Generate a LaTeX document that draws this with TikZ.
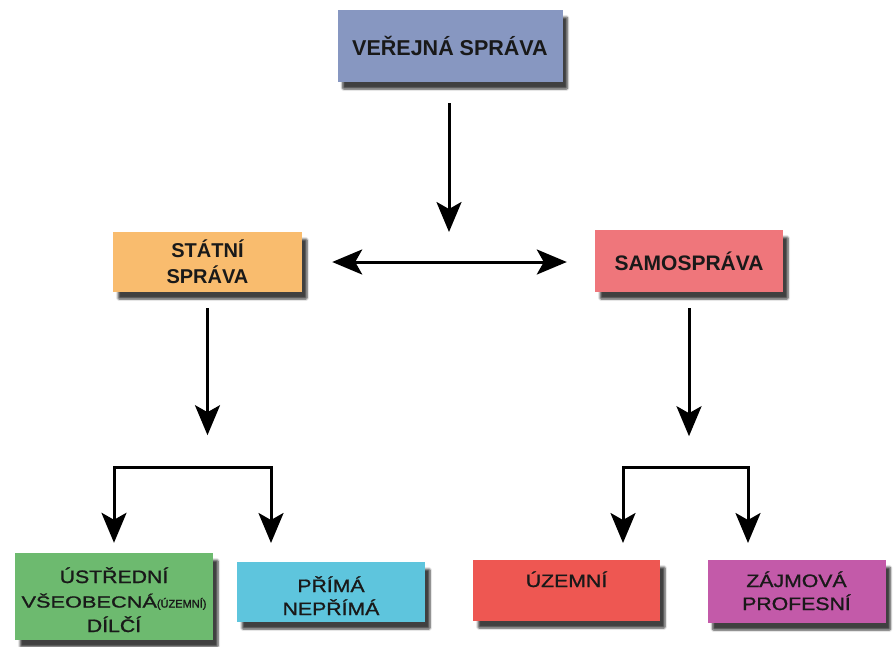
\documentclass[tikz,border=0pt]{standalone}
\usepackage{fontspec}
\setmainfont{Liberation Sans}
\newfontfamily\widefont[FakeStretch=1.18,FakeBold=1.2]{Liberation Sans}
\newfontfamily\widerfont[FakeStretch=1.36,FakeBold=1.2]{Liberation Sans}
\newfontfamily\smallfont[FakeBold=1.2]{Liberation Sans}
\usetikzlibrary{arrows.meta,shadows.blur}
\definecolor{cTop}{HTML}{8797C1}
\definecolor{cState}{HTML}{F9BC6E}
\definecolor{cSelf}{HTML}{EF767B}
\definecolor{cGreen}{HTML}{6DBA6F}
\definecolor{cCyan}{HTML}{5EC5DD}
\definecolor{cRed}{HTML}{EE5752}
\definecolor{cMag}{HTML}{C35AA9}
\tikzset{
  box/.style={draw=none, inner sep=0pt, align=center, text=black!90,
    blur shadow={shadow xshift=5pt, shadow yshift=-7pt, shadow blur steps=6, shadow blur extra rounding=1pt, shadow opacity=75}},
  arr/.style={line width=3pt, -{Stealth[length=30pt,width=25pt,inset=7pt]}},
  darr/.style={line width=3pt, {Stealth[length=30pt,width=25pt,inset=7pt]}-{Stealth[length=30pt,width=25pt,inset=7pt]}},
  lowtxt/.style={font=\widefont\fontsize{18}{23}\selectfont},
}
\begin{document}
\begin{tikzpicture}[x=1pt,y=-1pt]
\useasboundingbox (0,0) rectangle (894,646);
\node[box, fill=cTop, minimum width=225pt, minimum height=72pt, font=\bfseries\fontsize{21.5}{26}\selectfont] (top) at (450,46) {VEŘEJNÁ SPRÁVA};
\node[box, fill=cState, minimum width=189pt, minimum height=60pt, text height=45pt, text depth=3pt, font=\bfseries\fontsize{20}{26}\selectfont] (statni) at (207.5,262) {STÁTNÍ\\SPRÁVA};
\node[box, fill=cSelf, minimum width=188pt, minimum height=62pt, font=\bfseries\fontsize{21}{26}\selectfont] (samo) at (689,261) {SAMOSPRÁVA};
\node[box, fill=cGreen, minimum width=198pt, minimum height=87pt, text height=74pt, text depth=3pt, font=\widefont\fontsize{18}{24.5}\selectfont] (ustredni) at (114,596.5) {ÚSTŘEDNÍ\\{\widerfont\fontsize{16}{24.5}\selectfont VŠEOBECNÁ\smallfont\fontsize{11}{24.5}\selectfont(ÚZEMNÍ)}\\DÍLČÍ};
\node[box, fill=cCyan, minimum width=188pt, minimum height=60pt, text height=49pt, text depth=3pt, lowtxt] (prima) at (331,592) {PŘÍMÁ\\NEPŘÍMÁ};
\node[box, fill=cRed, minimum width=187pt, minimum height=61pt, text height=10pt, text depth=17pt, lowtxt] (uzemni) at (566.5,590.5) {ÚZEMNÍ};
\node[box, fill=cMag, minimum width=178pt, minimum height=63pt, text height=40pt, text depth=3pt, lowtxt] (zajmova) at (796.5,591.5) {ZÁJMOVÁ\\PROFESNÍ};
\coordinate (mid) at (449,262);
\draw[arr] ([yshift=-21pt]top.south -| mid) -- ([yshift=30pt]mid);
\draw[darr] ([xshift=30pt]statni.east) -- ([xshift=-28pt]samo.west |- statni.east);
\draw[arr] ([yshift=-16pt]statni.south) -- ++(0,127);
\draw[arr] ([yshift=-16pt]samo.south) -- ++(0,128);
\coordinate (lbar) at (192,467);
\coordinate (lB) at (271,543);
\coordinate (rbar) at (686,467);
\coordinate (rA) at (623,543);
\coordinate (rB) at (748,543);
\draw[arr] (lbar) -| ([yshift=10pt]ustredni.north);
\draw[arr] (lbar) -| (lB);
\draw[arr] (rbar) -| (rA);
\draw[arr] (rbar) -| (rB);
\end{tikzpicture}
\end{document}
